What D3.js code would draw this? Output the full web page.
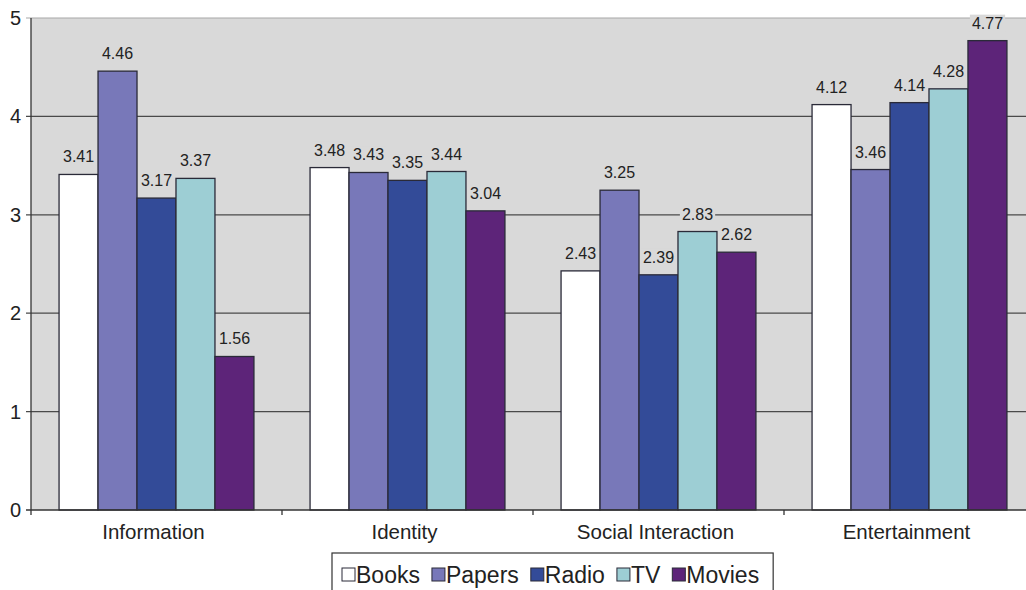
<!DOCTYPE html>
<html>
<head>
<meta charset="utf-8">
<script src="https://cdn.jsdelivr.net/npm/d3@7"></script>
<style>
  body { margin: 0; background: #fff; }
  svg { display: block; font-family: "Liberation Sans", Arial, sans-serif; }
</style>
</head>
<body>
<svg id="chart" width="1026" height="590"></svg>
<script>
// categories and series
const categories = ['Information', 'Identity', 'Social Interaction', 'Entertainment'];
const seriesNames = ['Books', 'Papers', 'Radio', 'TV', 'Movies'];
const books  = [3.41, 3.48, 2.43, 4.12];
const papers = [4.46, 3.43, 3.25, 3.46];
const radio  = [3.17, 3.35, 2.39, 4.14];
const tv     = [3.37, 3.44, 2.83, 4.28];
const movies = [1.56, 3.04, 2.62, 4.77];
const yTicks = [0, 1, 2, 3, 4, 5];

const seriesValues = [books, papers, radio, tv, movies];
const colors = ['#ffffff', '#7878b9', '#334b98', '#9dced4', '#5d2479'];

const svg = d3.select('#chart');
const plot = {left: 31, right: 1035, top: 18, bottom: 510};

const x0 = d3.scaleBand()
    .domain(categories)
    .range([plot.left, plot.right]);

const x1 = d3.scaleBand()
    .domain(seriesNames)
    .range([0, x0.bandwidth()])
    .paddingInner(0)
    .paddingOuter(0.72);

const y = d3.scaleLinear()
    .domain([0, 5])
    .range([plot.bottom, plot.top]);

const color = d3.scaleOrdinal().domain(seriesNames).range(colors);

// plot background
svg.append('rect')
    .attr('x', plot.left)
    .attr('y', plot.top)
    .attr('width', plot.right - plot.left)
    .attr('height', plot.bottom - plot.top)
    .style('fill', '#d9d9d9');

// gridlines
svg.append('g')
    .selectAll('line')
    .data(yTicks.filter(d => d > 0))
    .enter()
    .append('line')
        .attr('x1', plot.left - 5)
        .attr('x2', plot.right)
        .attr('y1', d => y(d))
        .attr('y2', d => y(d))
        .style('stroke', d => d == 5 ? '#a8a8a8' : '#4a4a4a')
        .style('stroke-width', 1.2);

// y tick labels
svg.append('g')
    .selectAll('text')
    .data(yTicks)
    .enter()
    .append('text')
        .attr('x', 21)
        .attr('y', d => y(d))
        .attr('dy', '0.35em')
        .attr('text-anchor', 'end')
        .style('font-size', '20px')
        .style('fill', '#222')
        .text(d => d);

// bars
const rows = [];
categories.forEach((c, i) => {
    seriesNames.forEach((s, j) => {
        rows.push({cat: c, series: s, value: seriesValues[j][i]});
    });
});

svg.append('g')
    .selectAll('rect')
    .data(rows)
    .enter()
    .append('rect')
        .attr('x', d => x0(d.cat) + x1(d.series))
        .attr('y', d => y(d.value))
        .attr('width', x1.bandwidth())
        .attr('height', d => y(0) - y(d.value))
        .style('fill', d => color(d.series))
        .style('stroke', '#2a2a38')
        .style('stroke-width', 1.3);

// axes lines
svg.append('line')
    .attr('x1', plot.left).attr('x2', plot.left)
    .attr('y1', plot.top).attr('y2', plot.bottom + 5)
    .style('stroke', '#333').style('stroke-width', 1.3);

svg.append('line')
    .attr('x1', plot.left - 5).attr('x2', plot.right)
    .attr('y1', plot.bottom).attr('y2', plot.bottom)
    .style('stroke', '#333').style('stroke-width', 1.3);

svg.append('g')
    .selectAll('line')
    .data(categories.slice(1))
    .enter()
    .append('line')
        .attr('x1', d => x0(d)).attr('x2', d => x0(d))
        .attr('y1', plot.bottom).attr('y2', plot.bottom + 5)
        .style('stroke', '#333').style('stroke-width', 1.3);

// category labels
svg.append('g')
    .selectAll('text')
    .data(categories)
    .enter()
    .append('text')
        .attr('x', d => x0(d) + x0.bandwidth() / 2 - 3)
        .attr('y', plot.bottom + 29)
        .attr('text-anchor', 'middle')
        .style('font-size', '20.5px')
        .style('fill', '#222')
        .text(d => d);

// value labels with background so gridlines break
const labels = svg.append('g')
    .selectAll('g')
    .data(rows)
    .enter()
    .append('g')
        .attr('transform', d => `translate(${x0(d.cat) + x1(d.series) + x1.bandwidth() / 2}, ${y(d.value) - 12})`);

labels.append('text')
    .attr('text-anchor', 'middle')
    .style('font-size', '16px')
    .style('fill', '#222')
    .text(d => d3.format('.2f')(d.value));

labels.each(function() {
    const g = d3.select(this);
    const bb = g.select('text').node().getBBox();
    g.insert('rect', 'text')
        .attr('x', bb.x - 2)
        .attr('y', bb.y)
        .attr('width', bb.width + 4)
        .attr('height', bb.height)
        .style('fill', '#d9d9d9');
});

// legend
const legend = svg.append('g');
const legendBox = legend.append('rect')
    .attr('y', 553)
    .attr('height', 45)
    .style('fill', '#fff')
    .style('stroke', '#333')
    .style('stroke-width', 1.2);

let lx = 342;
seriesNames.forEach(s => {
    legend.append('rect')
        .attr('x', lx)
        .attr('y', 568)
        .attr('width', 13)
        .attr('height', 13)
        .style('fill', color(s))
        .style('stroke', '#2a2a38')
        .style('stroke-width', 1);
    const t = legend.append('text')
        .attr('x', lx + 14)
        .attr('y', 583)
        .style('font-size', '23px')
        .style('fill', '#222')
        .text(s);
    lx += 14 + t.node().getComputedTextLength() + 12;
});

legendBox
    .attr('x', 332)
    .attr('width', lx - 332 + 2);
</script>
</body>
</html>
